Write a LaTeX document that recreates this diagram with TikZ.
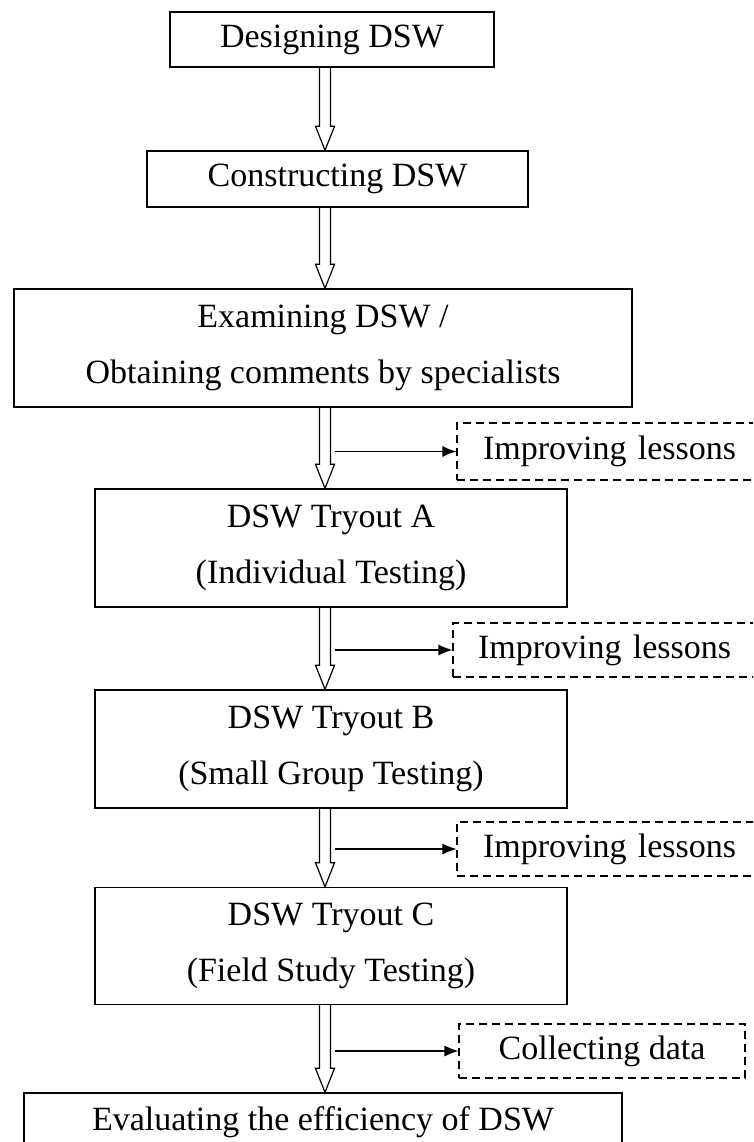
\documentclass[tikz,border=0pt]{standalone}
\usepackage{fontspec}
\setmainfont{Liberation Serif}
\usetikzlibrary{arrows.meta,calc}
\tikzset{
  box/.style={draw, line width=1.4pt, inner sep=0pt, align=center,
    font=\fontsize{34}{56}\selectfont},
  dbox/.style={draw, line width=1.1pt, dash pattern=on 8pt off 5pt, inner ysep=0pt,
    font=\fontsize{34}{40}\selectfont},
  dbl/.style={draw, line width=1.2pt, line join=miter},
  side/.style={draw, line width=1.2pt, -{Latex[length=14pt,width=11pt]}},
}
\newcommand\dblarrow[2]{%
  \path[dbl] let \p1=(#1.south), \p2=(#2.north) in
    (319.5pt,\y1) -- (319.5pt,\y2+24pt) -- (315.5pt,\y2+24pt) -- (325pt,\y2)
    -- (334.5pt,\y2+24pt) -- (330.5pt,\y2+24pt) -- (330.5pt,\y1);}
\begin{document}
\begin{tikzpicture}[x=1pt,y=-1pt]
\useasboundingbox (0,0) rectangle (753,1142);
\clip (0,0) rectangle (753,1142);
\fill[white] (0,0) rectangle (753,1142);

\node[box, minimum width=324, minimum height=55] (b1) at (332,39.5) {Designing DSW};
\node[box, minimum width=381, minimum height=56] (b2) at (337.5,179) {Constructing DSW};
\node[box, minimum width=618, minimum height=118] (b3) at (323,348) {Examining DSW /\\Obtaining comments by specialists};
\node[box, minimum width=472, minimum height=118] (b4) at (331,548) {DSW Tryout A\\(Individual Testing)};
\node[box, minimum width=472, minimum height=118] (b5) at (331,749) {DSW Tryout B\\(Small Group Testing)};
\node[box, minimum width=472, minimum height=117] (b6) at (331,946) {DSW Tryout C\\(Field Study Testing)};
\node[box, minimum width=598, minimum height=58] (b7) at (323,1122) {Evaluating the efficiency of DSW};

\node[dbox, inner xsep=26pt, text width=271pt, align=left, minimum height=57] (d1) at (618.5,451.5) {Improving lessons};
\node[dbox, inner xsep=25pt, text width=277pt, align=left, minimum height=54] (d2) at (616.5,650) {Improving lessons};
\node[dbox, inner xsep=26pt, text width=271pt, align=left, minimum height=54] (d3) at (618.5,849) {Improving lessons};
\node[dbox, inner xsep=0pt, minimum width=286, minimum height=54] (d4) at (602,1051) {Collecting data};

\dblarrow{b1}{b2}
\dblarrow{b2}{b3}
\dblarrow{b3}{b4}
\dblarrow{b4}{b5}
\dblarrow{b5}{b6}
\dblarrow{b6}{b7}

\coordinate (s1) at (335,451.5);
\coordinate (s2) at (335,650);
\coordinate (s3) at (335,849);
\coordinate (s4) at (335,1051);
\draw[side] (s1) -- (s1 -| d1.west);
\draw[side] (s2) -- (s2 -| d2.west);
\draw[side] (s3) -- (s3 -| d3.west);
\draw[side] (s4) -- (s4 -| d4.west);
\end{tikzpicture}
\end{document}
